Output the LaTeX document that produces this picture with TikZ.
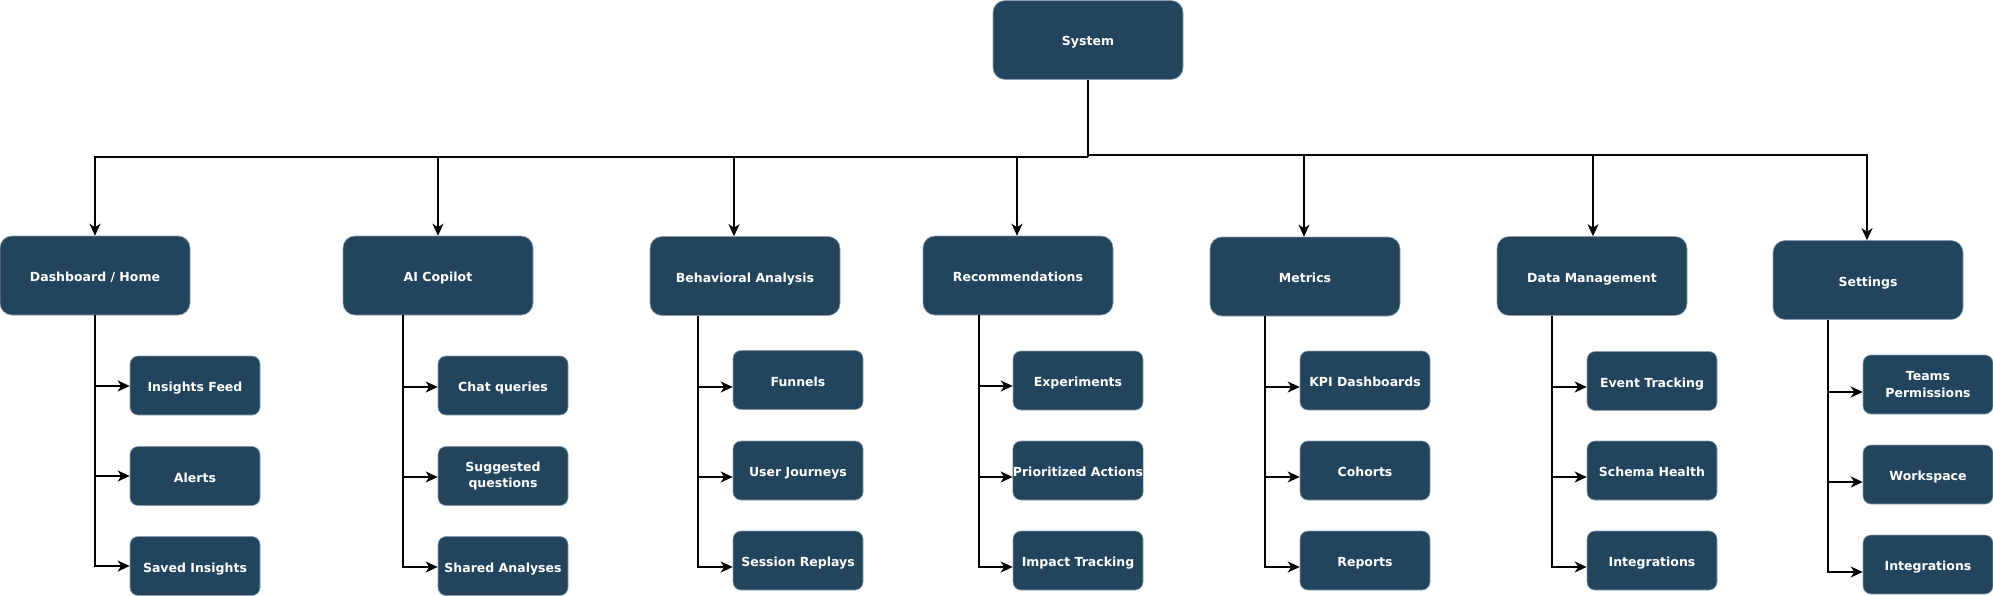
\documentclass[tikz,border=0pt]{standalone}
\usepackage{fontspec}
\setmainfont{DejaVu Sans}
\usetikzlibrary{arrows.meta}
\definecolor{boxfill}{HTML}{23445D}
\definecolor{boxedge}{HTML}{8A9CAB}
\newcommand\mybranch[6]{%
  \coordinate (#2t1) at (#3,#4);
  \coordinate (#2t2) at (#3,#5);
  \coordinate (#2t3) at (#3,#6);
  \draw[arr] (#2t1 |- #1.south) -- (#2t3) -- (#2t3 -| #23.west);
  \draw[arr] (#2t1) -- (#2t1 -| #21.west);
  \draw[arr] (#2t2) -- (#2t2 -| #22.west);
}
\begin{document}
\begin{tikzpicture}[x=1pt,y=-1pt,
  big/.style={draw=boxedge, line width=0.6pt, fill=boxfill, rounded corners=12pt,
    minimum width=190pt, minimum height=79pt, inner sep=0pt, text=white,
    font=\fontsize{12.5}{16.5}\selectfont\bfseries, align=center,
    text height=12pt, text depth=0pt},
  small/.style={big, rounded corners=8pt, minimum width=130pt, minimum height=59pt},
  two/.style={text height={}, text depth={}},
  line/.style={line width=1.6pt, draw=black},
  arr/.style={line, -{Stealth[length=12pt,width=11pt,inset=3.5pt]}}
]
\useasboundingbox (0,0) rectangle (1993,596);

% root
\node[big] (sys) at (1088,40) {System};

% level 1
\node[big] (dash) at (95,275.5)   {Dashboard / Home};
\node[big] (ai)   at (438,275.5)  {AI Copilot};
\node[big] (beh)  at (745,276)    {Behavioral Analysis};
\node[big] (rec)  at (1018,275.5) {Recommendations};
\node[big] (met)  at (1305,276.5) {Metrics};
\node[big] (dm)   at (1592,276)   {Data Management};
\node[big] (set)  at (1868,280)   {Settings};

% level 2
\node[small] (d1) at (195,385.5) {Insights Feed};
\node[small] (d2) at (195,476)   {Alerts};
\node[small] (d3) at (195,566)   {Saved Insights};

\node[small] (a1) at (503,385.5) {Chat queries};
\node[small,two] (a2) at (503,476)   {Suggested\\questions};
\node[small] (a3) at (503,566)   {Shared Analyses};

\node[small] (b1) at (798,380)   {Funnels};
\node[small] (b2) at (798,470.5) {User Journeys};
\node[small] (b3) at (798,560.5) {Session Replays};

\node[small] (r1) at (1078,380.5) {Experiments};
\node[small] (r2) at (1078,470.5) {Prioritized Actions};
\node[small] (r3) at (1078,560.5) {Impact Tracking};

\node[small] (m1) at (1365,380.5) {KPI Dashboards};
\node[small] (m2) at (1365,470.5) {Cohorts};
\node[small] (m3) at (1365,560.5) {Reports};

\node[small] (g1) at (1652,381)   {Event Tracking};
\node[small] (g2) at (1652,470.5) {Schema Health};
\node[small] (g3) at (1652,560.5) {Integrations};

\node[small,two] (s1) at (1928,384.5) {Teams\\Permissions};
\node[small] (s2) at (1928,474.5) {Workspace};
\node[small] (s3) at (1928,564.5) {Integrations};

% top connectors
\coordinate (hubL) at (1088,157);
\coordinate (hubR) at (1088,155);
\coordinate (ta1) at (95,157);
\coordinate (ta2) at (438,157);
\coordinate (ta3) at (734,157);
\coordinate (ta4) at (1017,157);
\coordinate (ta5) at (1304,155);
\coordinate (ta6) at (1593,155);
\coordinate (ta7) at (1867,155);

\draw[line width=2.6pt] (sys.south) -- (hubL);
\draw[arr] (hubL) -- (ta1) -- (ta1 |- dash.north);
\draw[arr] (ta2) -- (ta2 |- ai.north);
\draw[arr] (ta3) -- (ta3 |- beh.north);
\draw[arr] (ta4) -- (ta4 |- rec.north);
\draw[arr] (hubR) -- (ta7) -- (ta7 |- set.north);
\draw[arr] (ta5) -- (ta5 |- met.north);
\draw[arr] (ta6) -- (ta6 |- dm.north);

% branch connectors
\mybranch{dash}{d}{95}{386}{476}{566}
\mybranch{ai}{a}{403}{387}{477}{567}
\mybranch{beh}{b}{698}{387}{477}{567}
\mybranch{rec}{r}{979}{386}{477}{567}
\mybranch{met}{m}{1265}{387}{477}{567}
\mybranch{dm}{g}{1552}{387}{477}{567}
\mybranch{set}{s}{1828}{392}{482}{572}
\end{tikzpicture}
\end{document}
